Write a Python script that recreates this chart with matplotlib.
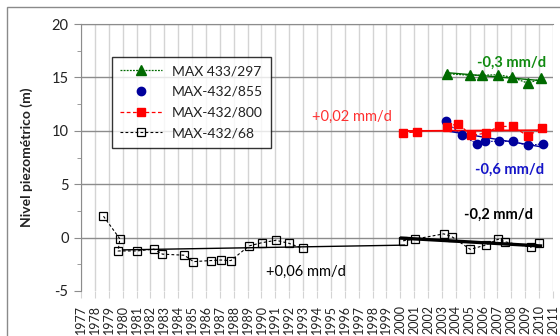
import numpy as np
import matplotlib
matplotlib.use("Agg")
import matplotlib.pyplot as plt
from matplotlib.patches import Rectangle
from matplotlib.ticker import MultipleLocator

plt.rcParams['font.family'] = ['Lato', 'DejaVu Sans']

# --- data -----------------------------------------------------------------
nan = np.nan

# MAX 433/297
yr_297 = [2003.34, 2005.0, 2005.85, 2007.06, 2008.07, 2009.2, 2010.17]
lv_297 = [15.35, 15.2, 15.2, 15.25, 15.0, 14.45, 14.9]

# MAX-432/855
yr_855 = [2003.3, 2004.44, 2005.5, 2006.1, 2007.1, 2008.1, 2009.2, 2010.3]
lv_855 = [10.88, 9.57, 8.79, 9.0, 9.03, 9.0, 8.63, 8.79]

# MAX-432/800 (gap between 2001 and 2003)
yr_800 = [2000.2, 2001.2, nan, 2003.37, 2004.18, 2005.1, 2006.15, 2007.1, 2008.1, 2009.2, 2010.2]
lv_800 = [9.82, 9.88, nan, 10.4, 10.67, 9.57, 9.78, 10.41, 10.41, 9.5, 10.3]

# MAX-432/68 (no readings between 1993 and 2000)
yr_68 = [1978.62, 1979.8, 1979.67, 1981.0, 1982.25, 1982.87, 1984.44, 1985.1, 1986.33,
         1987.07, 1987.8, 1989.1, 1990.05, 1991.05, 1991.96, 1992.96, nan,
         2000.2, 2001.03, 2003.13, 2003.7, 2005.04, 2006.15, 2007.04, 2007.57, 2009.38, 2010.0]
lv_68 = [2.0, -0.12, -1.25, -1.25, -1.08, -1.55, -1.65, -2.25, -2.15,
         -2.1, -2.15, -0.78, -0.47, -0.25, -0.53, -1.0, nan,
         -0.3, -0.15, 0.35, 0.1, -1.1, -0.7, -0.15, -0.4, -0.9, -0.55]

# linear trends: start year, end year, level at start (m), rate (mm/d)
trend_names = ["297", "800", "855", "68b", "68a"]
trend_x0 = [2003.3, 2000.0, 2003.3, 2000.1, 1980.0]
trend_x1 = [2010.2, 2010.2, 2010.3, 2010.1, 2000.3]
trend_y0 = [15.45, 9.98, 10.0, -0.05, -1.15]
trend_rate = [-0.3, 0.02, -0.6, -0.2, 0.06]
trend_labels = ["-0,3 mm/d", "+0,02 mm/d", "-0,6 mm/d", "-0,2 mm/d", "+0,06 mm/d"]

years = list(range(1977, 2012))

# --- figure ----------------------------------------------------------------
GREEN = "#006a00"
BLUE = "#00009c"
RED = "#ff0000"

fig = plt.figure(figsize=(5.6, 3.36), dpi=100)
ax = fig.add_axes([81 / 560, 45 / 336, 472 / 560, 267 / 336])

# outer chart border
fig.patches.append(Rectangle((7 / 560, -0.1), 1.2, 1.079, transform=fig.transFigure,
                             fill=False, edgecolor="#8a8a8a", linewidth=1.0))

ax.set_xlim(1977, 2011)
ax.set_ylim(-5, 20)

# series
ax.plot(yr_297, lv_297, color=GREEN, linestyle=(0, (1.5, 1)), linewidth=0.9,
        marker="^", markersize=6.5, markerfacecolor=GREEN, markeredgecolor=GREEN,
        label="MAX 433/297", zorder=4)
ax.plot(yr_855, lv_855, color=BLUE, linestyle=(0, (1.5, 1)), linewidth=0.8, zorder=3)
ax.plot(yr_855, lv_855, color=BLUE, linestyle="none",
        marker="o", markersize=6, markerfacecolor=BLUE, markeredgecolor=BLUE,
        label="MAX-432/855", zorder=4)
ax.plot(yr_800, lv_800, color=RED, linestyle=(0, (3, 2)), linewidth=0.9,
        marker="s", markersize=5.5, markerfacecolor=RED, markeredgecolor=RED,
        label="MAX-432/800", zorder=4)
ax.plot(yr_68, lv_68, color="black", linestyle=(0, (2.5, 2)), linewidth=0.8,
        marker="s", markersize=6, markerfacecolor="none", markeredgecolor="black",
        markeredgewidth=0.9, label="MAX-432/68", zorder=4)

# trend lines, slope from the stated rate (mm/d -> m/yr)
trend_color = [GREEN, RED, BLUE, "black", "black"]
trend_lw = [1.0, 1.3, 1.0, 2.4, 1.0]
for x0, x1, y0, r, c, lw in zip(trend_x0, trend_x1, trend_y0, trend_rate, trend_color, trend_lw):
    slope = r * 365.25 / 1000.0
    xs = np.array([x0, x1])
    ax.plot(xs, y0 + slope * (xs - x0), color=c, linewidth=lw, zorder=3)

# rate annotations
ann_x = [2008.0, 1996.55, 2007.85, 2007.1, 1993.2]
ann_y = [16.4, 11.26, 6.38, 2.16, -3.19]
ann_color = ["#0f8a0f", "#ff3030", "#1414c8", "black", "black"]
ann_weight = ["bold", "normal", "bold", "bold", "normal"]
ann_size = [10.5, 10.5, 10.5, 10.5, 10.5]
for t, x, y, c, w, s in zip(trend_labels, ann_x, ann_y, ann_color, ann_weight, ann_size):
    ax.text(x, y, t, color=c, fontweight=w, fontsize=s, ha="center", va="center", zorder=6)

# axes styling
ax.set_xticks(years)
ax.set_xticklabels([str(y) for y in years], rotation=90, fontsize=9, color="#222222")
ax.set_yticks([-5, 0, 5, 10, 15, 20])
ax.set_yticklabels(["-5", "0", "5", "10", "15", "20"], fontsize=10.5, color="#222222")
ax.yaxis.set_minor_locator(MultipleLocator(2.5))

ax.grid(axis="x", color="#d4d4d4", linewidth=1.0)
ax.grid(axis="y", color="#8c8c8c", linewidth=1.0)
for tk in ax.yaxis.get_major_ticks():
    if tk.get_loc() == -5:
        tk.gridline.set_visible(False)
ax.set_axisbelow(True)

for side in ("bottom", "right"):
    ax.spines[side].set_visible(False)
ax.spines["left"].set_color("#8c8c8c")
ax.spines["top"].set_color("#8c8c8c")

ax.tick_params(axis="x", direction="out", length=5, color="#d4d4d4", pad=5)
ax.tick_params(axis="y", which="major", direction="out", length=5, color="#8c8c8c", pad=4)
ax.tick_params(axis="y", which="minor", direction="out", length=3, color="#8c8c8c")

ax.set_ylabel("Nivel piezométrico (m)", fontsize=10, fontweight="bold", color="#222222")
ax.yaxis.set_label_coords(-0.102, 0.5)

leg = fig.legend(loc="upper left", bbox_to_anchor=(112 / 560, 279 / 336),
                 fontsize=10, frameon=True, fancybox=False, edgecolor="black",
                 handlelength=3.0, handletextpad=0.7, labelspacing=0.62,
                 borderpad=0.6, borderaxespad=0.0)
leg.get_frame().set_linewidth(1.0)
for t in leg.get_texts():
    t.set_color("#222222")

fig.savefig("out.png", dpi=100)
